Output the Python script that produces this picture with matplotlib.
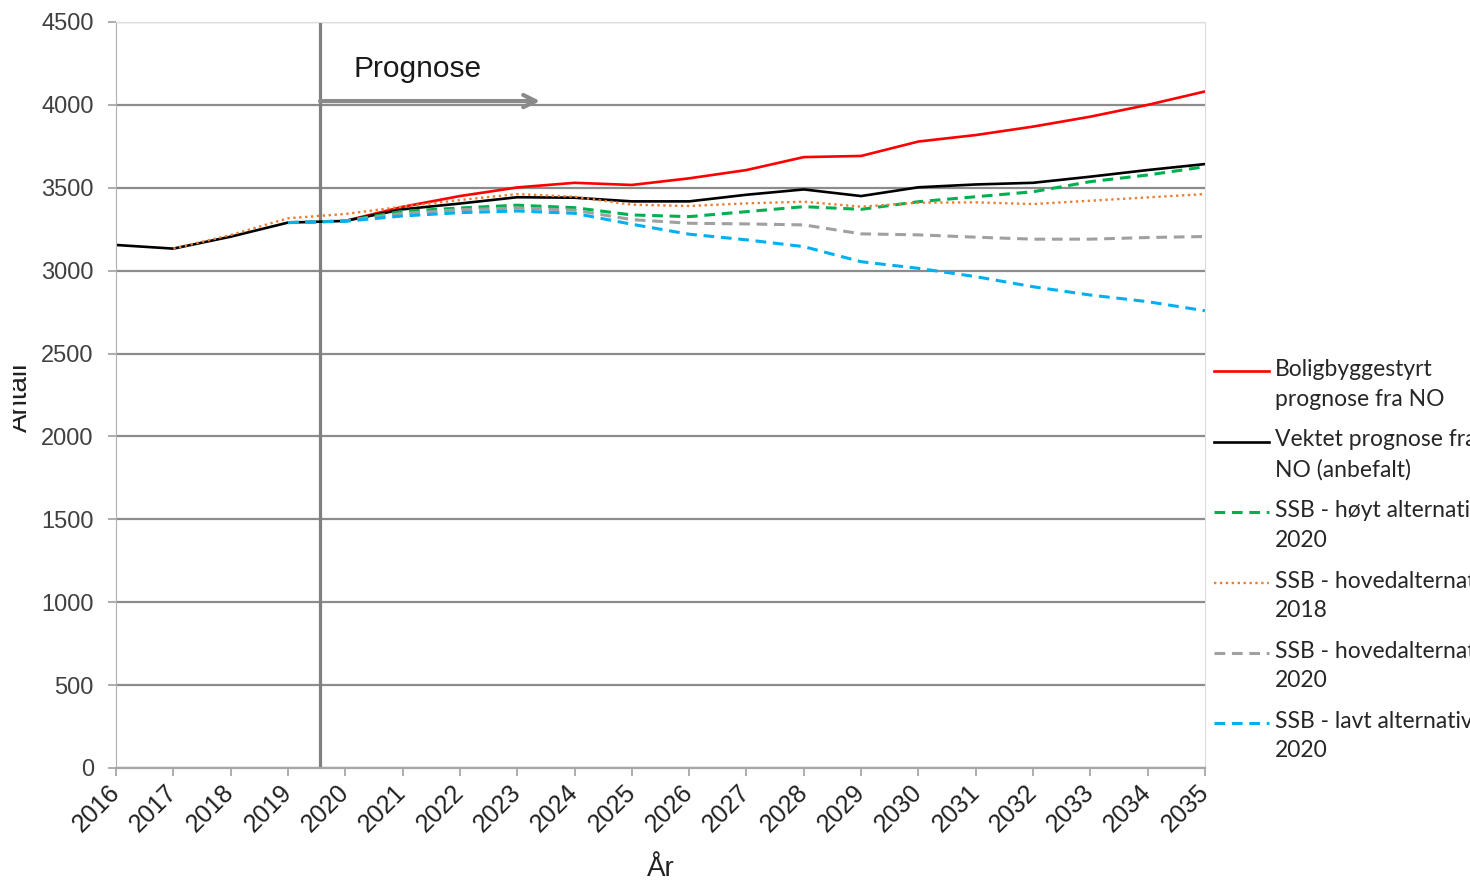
# Befolkningsprognose - antall, 2016-2035

import numpy as np
from matplotlib import pyplot as plt
from matplotlib.legend_handler import HandlerLine2D
from matplotlib.lines import Line2D
from matplotlib.transforms import Bbox, TransformedBbox

nan = np.nan
years = np.arange(2016, 2036)

bolig = [nan, nan, nan, nan, 3300, 3385, 3450, 3502, 3530, 3517,
         3557, 3607, 3685, 3692, 3779, 3818, 3869, 3929, 4000, 4081]
vektet = [3155, 3133, 3205, 3290, 3300, 3370, 3405, 3443, 3440, 3418,
          3418, 3458, 3490, 3450, 3503, 3520, 3530, 3567, 3607, 3643]
ssb_hoy = [nan, nan, nan, 3290, 3300, 3358, 3378, 3395, 3380, 3336,
           3326, 3356, 3386, 3370, 3416, 3446, 3476, 3537, 3577, 3627]
ssb_hoved18 = [nan, 3133, 3215, 3316, 3342, 3386, 3426, 3462, 3446, 3398,
               3390, 3406, 3416, 3386, 3410, 3412, 3402, 3422, 3442, 3462]
ssb_hoved20 = [nan, nan, nan, 3290, 3300, 3345, 3368, 3378, 3365, 3308,
               3286, 3282, 3276, 3222, 3216, 3202, 3190, 3190, 3200, 3206]
ssb_lavt = [nan, nan, nan, 3290, 3298, 3330, 3350, 3360, 3346, 3280,
            3220, 3186, 3145, 3054, 3014, 2964, 2903, 2853, 2813, 2758]

labels = ['Boligbyggestyrt\nprognose fra NO',
          'Vektet prognose fra\nNO (anbefalt)',
          'SSB - høyt alternativ\n2020',
          'SSB - hovedalternativ\n2018',
          'SSB - hovedalternativ\n2020',
          'SSB - lavt alternativ\n2020']

yticks = np.arange(0, 4501, 500)
prognose_start = 2019.56
arrow_end = 2023.4


class FirstLineHandler(HandlerLine2D):
    # put the legend line next to the first text line, like Excel does
    def create_artists(self, legend, orig_handle, xdescent, ydescent,
                       width, height, fontsize, trans):
        arts = super().create_artists(legend, orig_handle, xdescent, ydescent,
                                      width, height, fontsize, trans)
        for a in arts:
            if hasattr(a, 'set_ydata'):
                a.set_ydata(np.asarray(a.get_ydata()) + 0.6 * fontsize)
        return arts


plt.rcParams['font.family'] = ['Liberation Sans', 'DejaVu Sans']

fig = plt.figure(figsize=(14.7, 8.81), dpi=100)
ax = fig.add_axes([116/1470, 1-768/881, 1089/1470, 746/881])

ax.set_xlim(2016, 2035)
ax.set_ylim(0, 4500)
ax.set_yticks(yticks)
ax.set_xticks(years)
ax.grid(axis='y', color='#8c8c8c', linewidth=1.6)
ax.set_axisbelow(True)

ax.plot(years, bolig, color='#ff0000', lw=1.9, label=labels[0])
ax.plot(years, vektet, color='#000000', lw=1.9, label=labels[1])
ax.plot(years, ssb_hoy, color='#00b050', lw=2.2, dashes=(3.5, 2.2), label=labels[2])
ax.plot(years, ssb_hoved18, color='#ed7d31', lw=1.7, linestyle=(0, (1, 1.5)), label=labels[3])
ax.plot(years, ssb_hoved20, color='#a0a0a0', lw=2.2, dashes=(3.5, 2.2), label=labels[4])
ax.plot(years, ssb_lavt, color='#00b0f0', lw=2.2, dashes=(3.5, 2.2), label=labels[5])

ax.axvline(prognose_start, color='#808080', lw=2.3, zorder=1.5)
ax.annotate('', xy=(arrow_end, 4023), xytext=(prognose_start, 4023),
            arrowprops=dict(arrowstyle='->', color='#8a8a8a', lw=3, shrinkA=0, shrinkB=0,
                            mutation_scale=22))
ax.text(2020.15, 4215, 'Prognose', fontsize=21.5, color='#1a1a1a', va='center')

for side in ['top', 'right']:
    ax.spines[side].set_color('#dcdcdc')
ax.spines['left'].set_color('#b0b0b0')
ax.spines['bottom'].set_color('#a6a6a6')
ax.spines['bottom'].set_linewidth(1.6)
ax.tick_params(axis='y', colors='#a0a0a0', labelcolor='#404040', labelsize=17,
               length=6, width=1.2, pad=10)
ax.tick_params(axis='x', colors='#a0a0a0', labelcolor='#202020', labelsize=18,
               length=6, width=1.2, pad=9)
for lab in ax.get_xticklabels():
    lab.set_rotation(45)
    lab.set_ha('right')
    lab.set_va('center')
    lab.set_rotation_mode('anchor')

ax.set_xlabel('År', fontsize=20, color='#202020')
ax.xaxis.set_label_coords(0.5, -0.118)

ylab = fig.text(27/1470, 1-397/881, 'Antall', fontsize=20, color='#202020',
                rotation=90, rotation_mode='anchor', ha='center', va='baseline')
ylab.set_clip_box(TransformedBbox(Bbox([[13/1470, 0], [1, 1]]), fig.transFigure))

leg = ax.legend(loc='upper left', bbox_to_anchor=(1205/1470, 1-350/881),
                bbox_transform=fig.transFigure, frameon=False,
                prop={'family': 'Lato', 'size': 16.5}, handlelength=2.4,
                handletextpad=0.26, labelspacing=0.86, borderaxespad=0,
                handler_map={Line2D: FirstLineHandler()})
for t in leg.get_texts():
    t.set_color('#262626')
    t.set_linespacing(1.5)

fig.savefig('out.png', dpi=100)
